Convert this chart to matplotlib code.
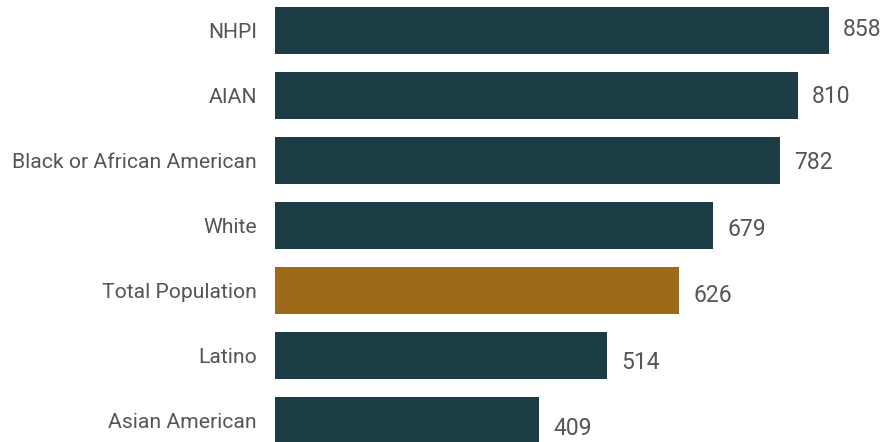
import matplotlib
matplotlib.use("Agg")
import matplotlib.pyplot as plt

categories = ["NHPI", "AIAN", "Black or African American", "White",
              "Total Population", "Latino", "Asian American"]
values = [858, 810, 782, 679, 626, 514, 409]
highlight = "Total Population"

teal = "#1c3c46"
gold = "#9d6a19"
text_color = "#555555"

plt.rcParams["font.family"] = ["Roboto", "DejaVu Sans"]

fig = plt.figure(figsize=(8.82, 4.42), dpi=100)
ax = fig.add_axes([275 / 882, 0, 1 - 275 / 882, 1])

pos = list(range(len(categories)))
colors = [gold if c == highlight else teal for c in categories]
ax.barh(pos, values, height=0.72, color=colors)

for i, v in enumerate(values):
    ax.text(v + 22, i + 0.023 * i - 0.01, str(v), va="center", ha="left",
            fontsize=16.5, color=text_color)

ax.set_yticks(pos)
ax.set_yticklabels(categories, fontsize=15.2, color=text_color)
ax.tick_params(axis="y", length=0, pad=13)
ax.set_xticks([])
ax.set_xlim(0, 607 / 0.6457)
ax.set_ylim((442 - 30.5) / 65, -30.5 / 65)
for s in ax.spines.values():
    s.set_visible(False)

fig.savefig("out.png", dpi=100)
